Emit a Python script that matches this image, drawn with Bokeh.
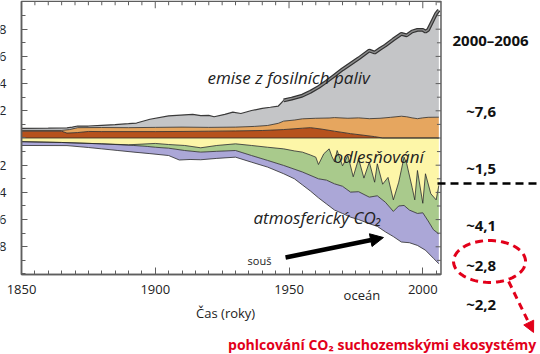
import numpy as np
from bokeh.plotting import figure
from bokeh.models import (Range1d, FixedTicker, Label, Arrow, NormalHead,
                          PolyAnnotation, BoxAnnotation)
from bokeh.embed import file_html
from bokeh.resources import INLINE

# ---------------- data (PgC / year) ----------------
fossil_years = [1850, 1860, 1867, 1869, 1871, 1875, 1880, 1885, 1890, 1893, 1898, 1905,
                1911, 1914, 1917, 1920, 1922, 1926, 1929, 1932, 1936, 1940, 1943, 1946,
                1948, 1951, 1955, 1958, 1961, 1964, 1967, 1970, 1973, 1976, 1980, 1982,
                1984, 1986, 1989, 1992, 1994, 1996, 1998, 2000, 2001, 2002, 2004, 2005, 2006]
fossil_top = [0.70, 0.72, 0.74, 0.80, 0.88, 0.88, 0.93, 0.98, 1.05, 1.10, 1.38, 1.62,
              1.70, 1.74, 1.65, 1.66, 1.56, 1.74, 1.90, 1.80, 2.02, 2.18, 2.26, 2.35,
              2.76, 2.90, 3.12, 3.40, 3.74, 4.15, 4.60, 5.05, 5.45, 5.85, 6.43, 6.28,
              6.55, 6.80, 7.25, 7.66, 7.55, 7.83, 7.95, 7.95, 7.82, 7.95, 8.75, 9.15, 9.40]

luc_years = [1850, 1865, 1868, 1871, 1880, 1890, 1900, 1910, 1920, 1930, 1937, 1942, 1946,
             1948, 1952, 1955, 1960, 1965, 1967, 1972, 1976, 1980, 1984, 1988, 1992, 1994,
             1996, 1998, 2000, 2002, 2006]
luc_top = [0.56, 0.56, 0.62, 0.76, 0.77, 0.76, 0.78, 0.80, 0.78, 0.80, 0.85, 0.92, 1.08,
           1.24, 1.32, 1.41, 1.45, 1.47, 1.50, 1.45, 1.48, 1.42, 1.45, 1.52, 1.60, 1.56,
           1.48, 1.42, 1.48, 1.52, 1.53]

brown_years = [1850, 1865, 1867, 1871, 1875, 1880, 1900, 1910, 1920, 1930, 1940, 1948,
               1955, 1958, 1962, 1967, 1973, 1978, 1982, 1985, 2006]
brown_top = [0.50, 0.50, 0.36, 0.40, 0.48, 0.47, 0.47, 0.48, 0.50, 0.52, 0.55, 0.62,
             0.72, 0.76, 0.66, 0.50, 0.32, 0.20, 0.10, 0.0, 0.0]

land_years = [1850, 1865, 1880, 1890, 1895, 1900, 1905, 1911, 1917, 1923, 1930, 1936,
              1942, 1948, 1952, 1955, 1958, 1960, 1961, 1963, 1965, 1966, 1967, 1968,
              1970, 1972, 1974, 1976, 1978, 1980, 1982, 1983, 1985, 1987, 1989, 1991,
              1993, 1994, 1996, 1997, 1998, 2000, 2001, 2003, 2005, 2006]
land_top = [-0.27, -0.33, -0.43, -0.50, -0.45, -0.40, -0.48, -0.55, -0.72, -0.55, -0.43, -0.55,
            -0.68, -0.80, -0.95, -1.04, -1.25, -1.41, -1.95, -1.16, -0.80, -1.35, -1.75, -0.92,
            -2.05, -1.29, -2.85, -1.53, -2.95, -1.78, -3.25, -1.90, -3.40, -2.90, -4.55, -3.25,
            -1.41, -1.90, -3.62, -4.55, -2.39, -4.80, -2.63, -4.10, -4.55, -3.49]

atm_years = [1850, 1865, 1880, 1892, 1897, 1900, 1905, 1911, 1917, 1923, 1930, 1936, 1942,
             1948, 1955, 1961, 1964, 1967, 1970, 1973, 1976, 1980, 1983, 1986, 1989, 1991,
             1993, 1995, 1998, 2000, 2002, 2004, 2006]
atm_top = [-0.27, -0.33, -0.43, -0.55, -0.62, -0.68, -0.75, -0.92, -1.04, -0.98, -0.92, -1.29,
           -1.65, -2.02, -2.50, -3.00, -3.10, -3.37, -3.55, -3.98, -3.95, -4.35, -4.25, -4.72,
           -5.40, -5.00, -4.96, -5.30, -5.55, -5.50, -6.10, -6.75, -7.05]

sink_years = [1850, 1867, 1875, 1880, 1886, 1892, 1898, 1905, 1909, 1913, 1917, 1923, 1930,
              1936, 1942, 1948, 1952, 1955, 1958, 1961, 1964, 1967, 1970, 1973, 1976, 1980,
              1983, 1986, 1989, 1992, 1995, 1998, 2001, 2004, 2006]
sink_bottom = [-0.55, -0.56, -0.70, -0.80, -0.92, -1.04, -1.15, -1.29, -1.62, -1.58, -1.60,
               -1.50, -1.41, -1.78, -2.14, -2.63, -3.00, -3.45, -3.90, -4.40, -4.85, -5.30,
               -5.55, -5.82, -6.00, -6.30, -6.50, -6.90, -7.25, -7.65, -7.70, -7.90, -8.25,
               -8.85, -9.25]

x_major = [1850, 1900, 1950, 2000]
x_minor = list(range(1850, 2010, 5))
y_major = [-8, -6, -4, -2, 2, 4, 6, 8]
y_minor = list(range(-10, 11))
y_labels = {v: str(abs(v)) for v in y_major}

period_label = "2000–2006"
budget_labels = ["~7,6", "~1,5", "~4,1", "~2,8", "~2,2"]

# ---------------- figure (frame = whole canvas, plot box drawn inside) ----------------
FONT = "Open Sans"
AX = "#5e5e5e"
RED = "#e2001a"

X0, X1 = 1850, 2006.8      # plot box in data units
Y0, Y1 = -10.04, 10.06

p = figure(width=540, height=354, output_backend="svg", toolbar_location=None,
           x_range=Range1d(1842.15, 2044.0), y_range=Range1d(-15.92, 10.11),
           min_border=0, background_fill_color="white", border_fill_color="white")
p.grid.visible = False
p.outline_line_color = None


def band(xa, ya, xb, yb, color):
    xs = list(xa) + list(xb)[::-1]
    ys = list(ya) + list(yb)[::-1]
    p.patch(xs, ys, fill_color=color, line_color=None)


zero_x = [fossil_years[0], fossil_years[-1]]
zero_y = [0, 0]

band(fossil_years, fossil_top, luc_years, luc_top, "#c4c5c7")
band(luc_years, luc_top, brown_years, brown_top, "#e6a65f")
band(brown_years, brown_top, zero_x, zero_y, "#b6521d")
band(zero_x, zero_y, land_years, land_top, "#fdf6a8")
band(land_years, land_top, atm_years, atm_top, "#a9ca8c")
band(atm_years, atm_top, sink_years, sink_bottom, "#aba7d7")

for xs, ys in [(luc_years, luc_top), (brown_years, brown_top), (zero_x, zero_y),
               (land_years, land_top), (atm_years, atm_top), (sink_years, sink_bottom)]:
    p.line(xs, ys, line_color="#2a2a2a", line_width=0.8)

# fossil top edge: thin early, thick dark band later
p.line(fossil_years, fossil_top, line_color="#3a3a3a", line_width=1.2)
k = fossil_years.index(1948)
p.line(fossil_years[k:], fossil_top[k:], line_color="#333333", line_width=3.8)
p.line(fossil_years[k:], fossil_top[k:], line_color="#8c8c8c", line_width=1.4)

# plot box
p.add_layout(BoxAnnotation(left=X0, right=X1, bottom=Y0, top=Y1, fill_alpha=0,
                           line_color=AX, line_alpha=1, line_width=1.5))

# ---------------- axes (fixed at the box edges) ----------------
xt = FixedTicker(ticks=x_major, minor_ticks=x_minor)
yt = FixedTicker(ticks=y_major, minor_ticks=y_minor)


def style_axis(ax):
    ax.axis_line_color = AX
    ax.axis_line_width = 1.5
    ax.major_tick_line_color = AX
    ax.minor_tick_line_color = AX
    ax.major_tick_in = 6
    ax.major_tick_out = 0
    ax.minor_tick_in = 4
    ax.minor_tick_out = 0
    ax.major_label_text_font = FONT
    ax.major_label_text_font_size = "13px"
    ax.major_label_text_color = "#222222"


xa = p.xaxis[0]
xa.ticker = xt
style_axis(xa)
xa.major_tick_in = 7
xa.major_label_standoff = 10
xa.fixed_location = Y0
xa.bounds = (X0, X1)

ya = p.yaxis[0]
ya.ticker = yt
style_axis(ya)
ya.major_label_overrides = y_labels
ya.major_label_standoff = 15
ya.fixed_location = X0
ya.bounds = (Y0, Y1)

# inward ticks on the top and right edges of the box, at the same tick values
tx_len = [0.52 if v in x_major else 0.30 for v in x_minor]
p.segment(x0=x_minor, y0=[Y1] * len(x_minor), x1=x_minor,
          y1=[Y1 - d for d in tx_len], line_color=AX, line_width=1)
ty_len = [2.0 if v in y_major else 1.5 for v in y_minor]
p.segment(x0=[X1] * len(y_minor), y0=y_minor, x1=[X1 - d for d in ty_len],
          y1=y_minor, line_color=AX, line_width=1)

# ---------------- texts ----------------


def lab(x, y, text, size, style="normal", color="#222222", align="left"):
    p.add_layout(Label(x=x, y=y, text=text, text_font=FONT, text_font_size=size,
                       text_font_style=style, text_color=color,
                       text_align=align, text_baseline="alphabetic"))


lab(1926.3, -12.9, "Čas (roky)", "13px", align="center")
lab(1919.5, 4.45, "emise z fosilních paliv", "17px", "italic")
lab(1966.6, -1.36, "odlesňování", "17px", "italic")
lab(1936.7, -5.81, "atmosferický CO₂", "17px", "italic")
lab(1934.5, -9.0, "souš", "11px")
lab(1970.4, -11.54, "oceán", "13px")

lab(2011.1, 7.19, period_label, "15px", "bold", "#111111")
for yv, t in zip([1.95, -2.24, -6.43, -9.375, -12.19], budget_labels):
    lab(2016.2, yv, t, "15px", "bold", "#111111")

lab(1927.2, -15.2, "pohlcování CO₂ suchozemskými ekosystémy", "14px", "bold", RED)

# arrows / marks
p.add_layout(Arrow(end=NormalHead(size=13, fill_color="black", line_color="black"),
                   x_start=1948.7, y_start=-8.79, x_end=1985.3, y_end=-7.32,
                   line_width=4.5, line_color="black"))

p.add_layout(Arrow(end=None, x_start=2005.5, y_start=-3.35, x_end=2044.0, y_end=-3.35,
                   line_width=2.5, line_color="black", line_dash="8 5"))

t = np.linspace(0, 2 * np.pi, 80)
ex = 2024.95 + 13.46 * np.cos(t)
ey = -9.08 + 1.54 * np.sin(t)
p.add_layout(PolyAnnotation(xs=list(ex), ys=list(ey), fill_alpha=0, line_color=RED,
                            line_alpha=1, line_width=3, line_dash="8 5"))

p.add_layout(Arrow(end=NormalHead(size=11, fill_color=RED, line_color=RED),
                   x_start=2032.1, y_start=-10.55, x_end=2041.4, y_end=-14.3,
                   line_width=3, line_color=RED, line_dash="7 5"))

open("out.html", "w").write(file_html(p, INLINE))
